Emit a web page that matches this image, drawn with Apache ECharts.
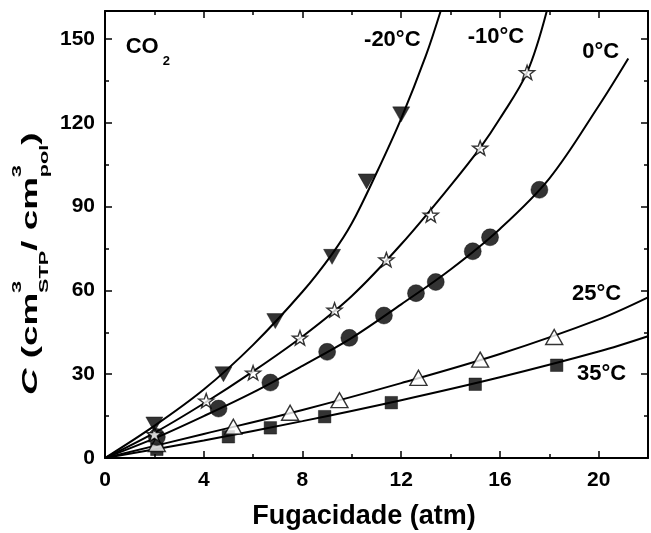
<!DOCTYPE html>
<html>
<head>
<meta charset="utf-8">
<script src="https://cdn.jsdelivr.net/npm/echarts@6/dist/echarts.min.js"></script>
<style>
  html, body { margin: 0; padding: 0; background: #ffffff; }
  #chart { width: 651px; height: 533px; }
</style>
</head>
<body>
<div id="chart"></div>
<script>
const FONT = '"Liberation Sans", Arial, Helvetica, sans-serif';

// Axis tick labels
const xTickLabels = [0, 4, 8, 12, 16, 20];
const yTickLabels = [0, 30, 60, 90, 120, 150];

// Measured sorption points: [fugacity (atm), C (cm3 STP / cm3 pol)]
const ptsM20 = [[2.0, 12], [4.8, 30], [6.9, 49], [9.2, 72], [10.6, 99], [12.0, 123]];
const ptsM10 = [[2.0, 8.5], [4.1, 20.5], [6.0, 30.5], [7.9, 43], [9.3, 53], [11.4, 71], [13.2, 87], [15.2, 111], [17.1, 138]];
const pts0   = [[2.1, 7.5], [4.6, 17.7], [6.7, 27], [9.0, 38], [9.9, 43], [11.3, 51], [12.6, 59], [13.4, 63], [14.9, 74], [15.6, 79], [17.6, 96]];
const pts25  = [[2.1, 5], [5.2, 11.2], [7.5, 16.2], [9.5, 20.7], [12.7, 28.7], [15.2, 35.2], [18.2, 43.3]];
const pts35  = [[2.1, 3.1], [5.0, 7.6], [6.7, 10.8], [8.9, 14.8], [11.6, 19.8], [15.0, 26.4], [18.3, 33.2]];

// Fitted isotherm curves, sampled along each line
const fitM20 = [[0, 0], [2, 11.5], [4, 24.5], [6, 40.5], [8, 59.5], [9.2, 73], [10, 84], [11, 102], [12, 121.5], [13, 144], [13.6, 160]];
const fitM10 = [[0, 0], [2, 9], [4, 19.5], [6, 31], [8, 43.5], [10, 58], [12, 76.5], [14, 97.5], [15.2, 111], [16, 121.5], [17.1, 138], [17.9, 160]];
const fit0   = [[0, 0], [2, 7], [4, 15], [6, 23.5], [8, 33], [10, 43], [12, 55], [14, 67.5], [16, 82], [18, 100], [20, 126], [21.2, 143]];
const fit25  = [[0, 0], [4, 8.6], [8, 17.2], [12, 26.8], [16, 37.2], [20, 49.6], [22, 57.5]];
const fit35  = [[0, 0], [4, 6.3], [8, 13.2], [12, 20.7], [16, 28.9], [20, 38.1], [22, 43.6]];

// Isotherm labels and where they sit (data coordinates)
const isoLabels = ['-20°C', '-10°C', '0°C', '25°C', '35°C'];
const isoLabelPos = [[11.64, 149.6], [15.84, 150.7], [20.08, 145.5], [19.92, 58.7], [20.12, 30.1]];

const STAR = 'path://M0,-10L2.35,-3.24L9.51,-3.09L3.8,1.24L5.88,8.09L0,4.1L-5.88,8.09L-3.8,1.24L-9.51,-3.09L-2.35,-3.24Z';

const chart = echarts.init(document.getElementById('chart'), null, { renderer: 'canvas' });

function axisCommon(showLabels, tickSet) {
  return {
    type: 'value',
    axisLine: { show: true, onZero: false, lineStyle: { color: '#000', width: 2 } },
    axisTick: { show: true, inside: true, length: 7, lineStyle: { color: '#000', width: 1.5 } },
    minorTick: { show: true, splitNumber: 2, length: 4, lineStyle: { color: '#000', width: 1.5 } },
    splitLine: { show: false },
    minorSplitLine: { show: false },
    axisLabel: {
      show: showLabels,
      color: '#000',
      fontFamily: FONT,
      fontWeight: 'bold',
      fontSize: 21,
      formatter: v => (tickSet.indexOf(v) >= 0 ? String(v) : '')
    }
  };
}

const xBase = Object.assign(axisCommon(true, xTickLabels), { min: 0, max: 22, interval: 4 });
xBase.axisLabel.margin = 12;
const xTop = Object.assign(axisCommon(false, xTickLabels), { min: 0, max: 22, interval: 4, position: 'top' });
const yBase = Object.assign(axisCommon(true, yTickLabels), { min: 0, max: 160, interval: 30 });
yBase.axisLabel.margin = 10;
const yRight = Object.assign(axisCommon(false, yTickLabels), { min: 0, max: 160, interval: 30, position: 'right' });

function fitLine(data) {
  return {
    type: 'line', data: data, smooth: 0.35, symbol: 'none', silent: true, z: 2,
    lineStyle: { color: '#000', width: 2 }
  };
}

function markers(data, symbol, size, filled, extra) {
  return Object.assign({
    type: 'scatter', data: data, symbol: symbol, symbolSize: size, z: 5,
    symbolKeepAspect: true,
    itemStyle: filled
      ? { color: '#000', borderColor: '#000', borderWidth: 0.5 }
      : { color: '#fff', borderColor: '#000', borderWidth: 1.4 }
  }, extra || {});
}

chart.setOption({
  animation: false,
  backgroundColor: '#ffffff',
  grid: { left: 105, top: 11, width: 550, height: 447 },
  xAxis: [xBase, xTop],
  yAxis: [yBase, yRight],
  series: [
    fitLine(fitM20), fitLine(fitM10), fitLine(fit0), fitLine(fit25), fitLine(fit35),
    markers(pts35, 'rect', 12.5, true),
    markers(pts25, 'triangle', [17, 15], false),
    markers(pts0, 'circle', 17, true),
    markers(ptsM10, STAR, 15, false),
    markers(ptsM20, 'triangle', [17, 15], true, { symbolRotate: 180 })
  ]
});

// Text annotations placed from data coordinates
const labelFont = 'bold 22px ' + FONT;
const graphics = isoLabels.map((t, i) => {
  const p = chart.convertToPixel({ gridIndex: 0 }, isoLabelPos[i]);
  return {
    type: 'text', x: p[0], y: p[1], z: 10,
    style: { text: t, font: labelFont, fill: '#000', align: 'center', verticalAlign: 'middle' }
  };
});

const coPos = chart.convertToPixel({ gridIndex: 0 }, [0.84, 147]);
graphics.push({
  type: 'text', x: coPos[0], y: coPos[1], z: 10,
  style: { text: 'CO', font: 'bold 22px ' + FONT, fill: '#000', align: 'left', verticalAlign: 'middle' }
});
graphics.push({
  type: 'text', x: coPos[0] + 37, y: coPos[1] + 14, z: 10,
  style: { text: '2', font: 'bold 13px ' + FONT, fill: '#000', align: 'left', verticalAlign: 'middle' }
});

// x-axis title
graphics.push({
  type: 'text', x: 364, y: 517, z: 10,
  style: { text: 'Fugacidade (atm)', font: 'bold 27px ' + FONT, fill: '#000', align: 'center', verticalAlign: 'middle' }
});

// y-axis title, drawn bottom-to-top with stacked super/subscripts
const mainF = 'bold 22px ' + FONT;
const smallF = 'bold 13px ' + FONT;
function seg(text, x, y, font) {
  return { type: 'text', x: x, y: y, style: { text: text, font: font, fill: '#000', align: 'left', verticalAlign: 'middle' } };
}
graphics.push({
  type: 'group', x: 31, y: 395, rotation: Math.PI / 2, scaleX: 1.67, scaleY: 1,
  children: [
    seg('C', 0, 0, 'italic ' + mainF),
    seg(' (cm', 15.9, 0, mainF),
    seg('3', 61.1, -14, smallF),
    seg('STP', 61.1, 13, smallF),
    seg('/ cm', 86.4, 0, mainF),
    seg('3', 130.4, -14, smallF),
    seg('pol', 130.4, 13, smallF),
    seg(')', 149.8, 0, mainF)
  ]
});

chart.setOption({ graphic: graphics });
</script>
</body>
</html>
